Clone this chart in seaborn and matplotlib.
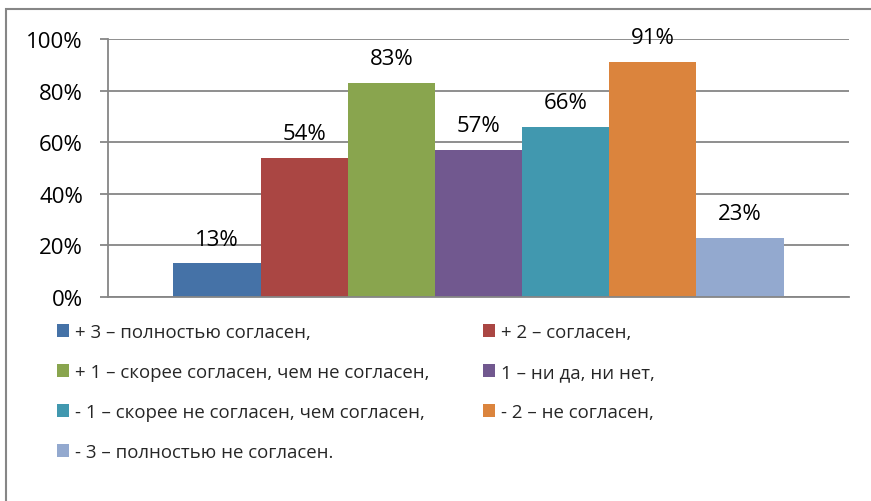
import matplotlib
matplotlib.use("Agg")
import matplotlib.pyplot as plt
import seaborn as sns
import pandas as pd
from matplotlib.patches import Rectangle
from matplotlib.ticker import FuncFormatter

series = [
    "+ 3 – полностью согласен,",
    "+ 2 – согласен,",
    "+ 1 – скорее согласен, чем не согласен,",
    "1 – ни да, ни нет,",
    "- 1 – скорее не согласен, чем согласен,",
    "- 2 – не согласен,",
    "- 3 – полностью не согласен.",
]
values = [13, 54, 83, 57, 66, 91, 23]
colors = ["#4572A7", "#AA4643", "#89A54E", "#71588F", "#4198AF", "#DB843D", "#93A9CF"]
yticks = [0, 20, 40, 60, 80, 100]

sns.set_theme(style="white")
plt.rcParams["font.family"] = ["Open Sans", "DejaVu Sans"]

df = pd.DataFrame({"cat": [""] * len(values), "series": series, "value": values})

fig = plt.figure(figsize=(8.71, 5.02), dpi=100)
ax = fig.add_axes([108 / 871, 1 - 298 / 502, (849 - 108) / 871, (298 - 40) / 502])

sns.barplot(data=df, x="cat", y="value", hue="series", hue_order=series,
            palette=colors, saturation=1, width=7 / 8.5, ax=ax, legend=True,
            linewidth=0)

ax.set_xlim(-0.5, 0.5)
ax.set_ylim(0, 100)
ax.set_yticks(yticks)
ax.yaxis.set_major_formatter(FuncFormatter(lambda v, p: f"{int(v)}%"))
ax.set_xlabel("")
ax.set_ylabel("")
ax.set_xticks([])
ax.grid(axis="y", color="#868686", linewidth=1.3)
ax.set_axisbelow(True)
for s in ["top", "right"]:
    ax.spines[s].set_visible(False)
for s in ["left", "bottom"]:
    ax.spines[s].set_color("#868686")
    ax.spines[s].set_linewidth(1.3)
ax.tick_params(axis="y", left=True, length=6, width=1.3, color="#868686",
               labelsize=16, labelcolor="#000000", pad=12)

for cont, v in zip(ax.containers, values):
    ax.bar_label(cont, labels=[f"{v}%"], padding=10, fontsize=16, color="#000000")

handles, labels = ax.get_legend_handles_labels()
ax.get_legend().remove()

leg_kw = dict(frameon=False, fontsize=13.4, handlelength=0.65, handleheight=0.65,
              handletextpad=0.33, labelspacing=1.18, borderaxespad=0, borderpad=0)
order1 = [0, 2, 4, 6]
order2 = [1, 3, 5]
fig.legend([handles[i] for i in order1], [labels[i] for i in order1],
           loc="upper left", bbox_to_anchor=(57 / 871, 1 - 324 / 502), **leg_kw)
fig.legend([handles[i] for i in order2], [labels[i] for i in order2],
           loc="upper left", bbox_to_anchor=(483 / 871, 1 - 324 / 502), **leg_kw)

fig.patches.append(Rectangle((6 / 871, -0.1), 1.2, 1.1 - 10 / 502,
                             transform=fig.transFigure, fill=False,
                             edgecolor="#868686", linewidth=1.5, figure=fig))

fig.savefig("out.png", dpi=100)
